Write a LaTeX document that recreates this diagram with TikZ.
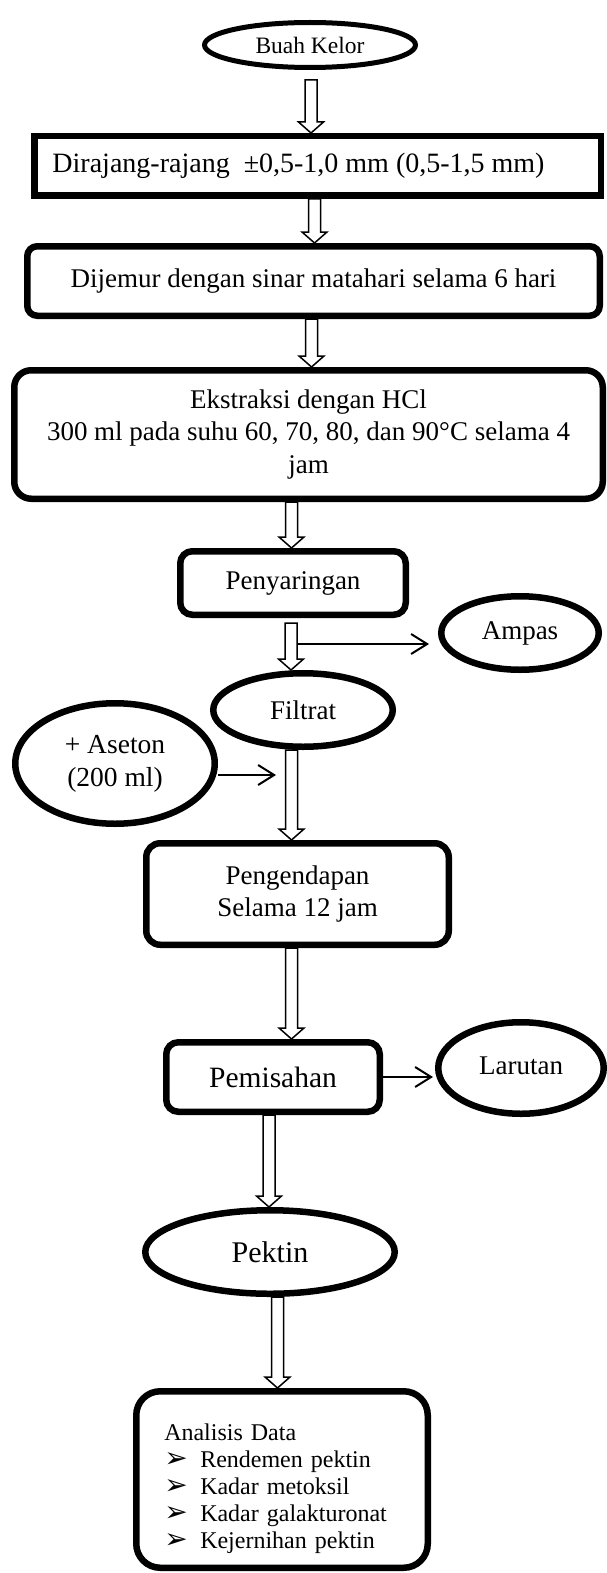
\documentclass[tikz,border=0pt]{standalone}
\usepackage{fontspec}
\setmainfont{Liberation Serif}
\newfontfamily\dingfont{DejaVu Sans}
\usetikzlibrary{arrows.meta,shapes.geometric,calc}

% hollow block arrow: [gap]{x of shaft}{from}{to}
\newcommand{\flowarrow}[4][0]{%
  \draw[hollow] let \p1 = (#3.south), \p2 = (#4.north) in
    (#2-6pt,\y1-#1pt) -- (#2-6pt,\y2+11pt) -- (#2-12.5pt,\y2+11pt) -- (#2pt,\y2)
    -- (#2+12.5pt,\y2+11pt) -- (#2+6pt,\y2+11pt) -- (#2+6pt,\y1-#1pt) -- cycle;}
\newcommand{\bul}{\makebox[36pt][l]{\smash{\dingfont\fontsize{28}{28}\selectfont ➢}}}

\begin{document}
\begin{tikzpicture}[x=1pt,y=1pt,
  box/.style={draw, line width=6.5pt, inner sep=0pt, align=center,
    font=\fontsize{27}{32.5}\selectfont},
  roundbox/.style={box, rounded corners=#1},
  roundbox/.default=12pt,
  oval/.style={box, ellipse},
  hollow/.style={draw, fill=white, line width=1.5pt, line join=miter},
  side/.style={line width=2pt, -{Straight Barb[length=16pt,width=20pt]}}]

  \useasboundingbox (0,0) rectangle (606,-1573);

  % main column
  \node[oval, line width=5pt, minimum width=211, minimum height=45,
    font=\fontsize{23.5}{28}\selectfont] (kelor) at (310,-45) {Buah Kelor};
  \node[box, minimum width=566.5, minimum height=59.5,
    font=\fontsize{28}{32.5}\selectfont] (rajang) at (317.5,-166)
    {Dirajang-rajang~~±0,5-1,0 mm (0,5-1,5 mm)\hspace{38pt}};
  \node[roundbox=10pt, minimum width=572.5, minimum height=69.5] (jemur) at (313.5,-281)
    {Dijemur dengan sinar matahari selama 6 hari};
  \node[roundbox=17pt, minimum width=588.5, minimum height=128.5] (ekstrak) at (308.5,-434.5)
    {Ekstraksi dengan HCl\\300 ml pada suhu 60, 70, 80, dan 90°C selama 4\\jam};
  \node[roundbox, minimum width=225.5, minimum height=63.5] (saring) at (293,-583) {Penyaringan};
  \node[oval, minimum width=179.5, minimum height=73.5] (filtrat) at (303,-710) {Filtrat};
  \node[roundbox=14pt, minimum width=302.5, minimum height=101.5] (endap) at (297.5,-894)
    {Pengendapan\\Selama 12 jam};
  \node[roundbox, minimum width=213.5, minimum height=69.5,
    font=\fontsize{29.5}{34}\selectfont] (pisah) at (273,-1077) {Pemisahan};
  \node[oval, minimum width=249.5, minimum height=83.5,
    font=\fontsize{30}{34}\selectfont] (pektin) at (270,-1252) {Pektin};
  \node[roundbox=24pt, minimum height=176.5, text width=235.5, inner xsep=28pt,
    align=left, font=\fontsize{24}{27}\selectfont] (analisis) at (282,-1479.5)
    {\rule{0pt}{36pt}Analisis Data\\
     \bul Rendemen pektin\\
     \bul Kadar metoksil\\
     \bul Kadar galakturonat\\
     \bul Kejernihan pektin};

  % side nodes
  \node[oval, minimum width=157.5, minimum height=73.5] (ampas) at (520,-633) {Ampas};
  \node[oval, minimum width=199.5, minimum height=120.5,
    font=\fontsize{27.5}{33}\selectfont] (aseton) at (115,-763.5) {+ Aseton\\(200 ml)};
  \node[oval, minimum width=165.5, minimum height=91.5] (larutan) at (521,-1068)
    {\raisebox{5pt}{Larutan}};

  % block arrows
  \flowarrow[10]{311}{kelor}{rajang}
  \flowarrow{314.5}{rajang}{jemur}
  \flowarrow{311.5}{jemur}{ekstrak}
  \flowarrow{291.5}{ekstrak}{saring}
  \flowarrow[5]{291}{saring}{filtrat}
  \flowarrow{291.5}{filtrat}{endap}
  \flowarrow{291.5}{endap}{pisah}
  \flowarrow{269}{pisah}{pektin}
  \flowarrow{277.5}{pektin}{analisis}

  % side arrows
  \coordinate (split) at (297,-644);
  \coordinate (join) at (276,-775);
  \draw[side] (split) -- ([xshift=-9pt]split -| ampas.west);
  \draw[side] (aseton.east |- join) -- (join);
  \draw[side] (pisah.east) -- ([xshift=-2pt]pisah.east -| larutan.west);

\end{tikzpicture}
\end{document}
